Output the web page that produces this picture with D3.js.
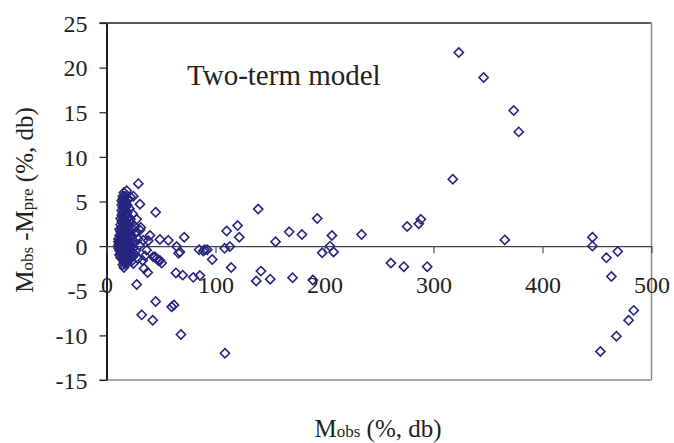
<!DOCTYPE html>
<html>
<head>
<meta charset="utf-8">
<script src="https://cdn.jsdelivr.net/npm/d3@7/dist/d3.min.js"></script>
<style>
  html, body { margin: 0; padding: 0; background: #fff; }
  svg { display: block; }
  text { font-family: "Liberation Serif", "Times New Roman", serif; fill: #231f20; }
</style>
</head>
<body>
<svg id="chart" width="674" height="443"></svg>
<script>
// ---- Data ----
const title = "Two-term model";
const xTicks = [0, 100, 200, 300, 400, 500];
const yTicks = [-15, -10, -5, 0, 5, 10, 15, 20, 25];

// Sparse points: M_obs and M_obs - M_pre
const sparseObs = [323.2, 346, 373.6, 378.2, 317.7, 365.4, 445.8, 445.8, 458.6, 469, 463.2, 483.7, 479, 467.8, 453.1,
  294.2, 139.2, 193.3, 120.3, 110.2, 121.8, 167.6, 179.3, 155.1, 206.8, 234, 275.8, 286.5, 288.4, 205, 197.9, 208.3,
  108.4, 113.2, 90, 92.4, 97, 85.7, 114.4, 141.7, 137.4, 150.2, 170.7, 189.3, 260.9, 272.8, 108.7,
  27.7, 45.1, 32.3, 42.4, 68.3, 59.8, 61.9, 63.7, 69.9, 79.6, 85, 88.8, 66.2, 67.4, 64.4, 71.3, 56.7, 49, 39.9,
  45.1, 30.7, 29.2, 27.7, 31.4, 37.8, 34.4, 49, 50.6, 46, 42.9, 36.8, 35.3, 33.2, 24.6, 16, 38.3, 33.7, 30.1,
  27.7, 30.7, 24.6, 18.5, 17, 44.5, 47.5];
const sparseDiff = [21.7, 18.9, 15.2, 12.8, 7.5, 0.7, 1.0, 0.0, -1.3, -0.6, -3.4, -7.2, -8.3, -10.1, -11.8,
  -2.3, 4.15, 3.1, 2.3, 1.7, 1.0, 1.6, 1.3, 0.5, 1.2, 1.3, 2.2, 2.5, 3.0, 0.0, -0.75, -0.65,
  -0.25, -0.05, -0.4, -0.4, -1.5, -3.3, -2.4, -2.8, -3.9, -3.7, -3.55, -3.8, -1.9, -2.3, -12.0,
  -4.3, -6.2, -7.7, -8.3, -9.9, -6.8, -6.6, -3.0, -3.25, -3.5, -0.4, -0.55, -0.8, -0.65, -0.05, 1.0, 0.65, 0.75, 1.2,
  3.8, 4.7, 7.0, 3.0, 2.1, -2.95, -2.5, -1.6, -1.9, -1.4, -1.2, -0.45, -1.1, -1.6, -1.95, -2.4, 0.6, 0.65, 0.1,
  1.6, 1.8, 5.6, 6.2, 4.8, -1.2, -1.6];

// Dense cluster at low M_obs
const clusterObs = [11, 11, 11, 11,
  12, 12, 12, 12, 12, 12,
  13, 13, 13, 13, 13, 13, 13, 13, 13,
  14, 14, 14, 14, 14, 14, 14, 14, 14, 14, 14,
  15, 15, 15, 15, 15, 15, 15, 15, 15, 15, 15, 15, 15, 15, 15, 15,
  16, 16, 16, 16, 16, 16, 16, 16, 16, 16, 16, 16, 16,
  17, 17, 17, 17, 17, 17, 17, 17, 17, 17, 17, 17, 17,
  18, 18, 18, 18, 18, 18, 18, 18, 18, 18,
  19, 19, 19, 19, 19, 19, 19, 19, 19, 19,
  20, 20, 20, 20, 20, 20, 20, 20,
  21, 21, 21, 21, 21, 21, 21,
  22, 22, 22, 22, 22, 22,
  23, 23, 23, 23, 23,
  24, 24, 24, 24, 24,
  26, 26, 26, 27, 27, 29, 29];
const clusterDiff = [0.5, 0.1, -0.2, 0.8,
  1.2, 0.6, -0.5, 0.3, -1.0, 1.9,
  0.5, 0.2, -0.3, 1.0, 1.6, 2.4, 3.1, -0.8, -1.3,
  4.0, 3.5, 2.8, 2.0, 1.2, 0.6, 0.0, -0.6, -1.0, 4.6, 5.1,
  5.6, 5.3, 4.9, 4.3, 3.7, 3.2, 2.6, 2.2, 1.8, 1.4, 0.9, 0.3, -0.2, -0.9, -1.5, -2.1,
  6.0, 5.2, 4.5, 3.9, 3.0, 2.5, 1.6, 1.1, 0.7, 0.1, -0.5, -1.2, -1.8,
  5.6, 4.8, 4.1, 3.4, 2.9, 2.1, 1.5, 0.8, 0.4, -0.3, -0.8, -1.4, -2.0,
  5.0, 4.4, 3.6, 2.7, 2.0, 1.3, 0.5, -0.1, -0.7, -1.6,
  4.6, 3.8, 3.1, 2.3, 1.7, 0.9, 0.2, -0.4, -1.1, -1.9,
  5.3, 3.3, 2.4, 1.4, 0.6, -0.2, -0.9, -1.5,
  4.2, 2.8, 1.8, 1.0, 0.3, -0.6, -1.3,
  5.5, 3.0, 1.6, 0.5, -0.4, -1.0,
  2.5, 1.2, 0.0, -0.8, -1.7,
  3.6, 1.9, 0.7, -0.3, -1.2,
  2.2, 0.4, -0.9, 1.5, -0.5, 0.8, -1.4];

// ---- Chart ----
const svg = d3.select("#chart");
const pLeft = 106.5, pRight = 651.5, pTop = 23, pBottom = 380;
const x = d3.scaleLinear().domain([0, 500]).range([pLeft, pRight]);
const y = d3.scaleLinear().domain([-15, 25]).range([pBottom, pTop]);
const markColor = "#262680";

// Plot frame (top black, right & bottom grey)
svg.append("line").attr("x1", pLeft - 7).attr("x2", pRight).attr("y1", pTop).attr("y2", pTop)
  .attr("stroke", "#231f20").attr("stroke-width", 1.3);
svg.append("line").attr("x1", pRight).attr("x2", pRight).attr("y1", pTop).attr("y2", pBottom)
  .attr("stroke", "#8c8c8c").attr("stroke-width", 1.5);
svg.append("line").attr("x1", pLeft - 7).attr("x2", pRight).attr("y1", pBottom).attr("y2", pBottom)
  .attr("stroke", "#8c8c8c").attr("stroke-width", 1.5);

// Y axis
const yAxis = d3.axisLeft(y).tickValues(yTicks).tickSize(7).tickSizeOuter(0).tickPadding(12).tickFormat(d3.format("d"));
const gy = svg.append("g").attr("transform", `translate(${pLeft},0)`).call(yAxis);
gy.select(".domain").attr("stroke", "#231f20").attr("stroke-width", 2);
gy.selectAll(".tick line").attr("stroke", "#231f20").attr("stroke-width", 1.2);
gy.selectAll(".tick text").attr("font-family", "Liberation Serif").attr("font-size", 24)
  .attr("fill", "#231f20").attr("dy", "0.34em").text(d => d < 0 ? "-" + Math.abs(d) : d);

// X axis on zero line
const xAxis = d3.axisBottom(x).tickValues(xTicks).tickSize(7).tickSizeOuter(0).tickPadding(23).tickFormat(d3.format("d"));
const gx = svg.append("g").attr("transform", `translate(0,${y(0)})`).call(xAxis);
gx.select(".domain").attr("stroke", "#444").attr("stroke-width", 1.1);
gx.selectAll(".tick line").attr("stroke", "#444").attr("stroke-width", 1.1);
gx.selectAll(".tick text").attr("font-family", "Liberation Serif").attr("font-size", 24)
  .attr("fill", "#231f20");

// Points
const pts = [];
sparseObs.forEach((v, i) => pts.push([v, sparseDiff[i]]));
clusterObs.forEach((v, i) => pts.push([v, clusterDiff[i]]));
const r = 4.6;
svg.append("g").selectAll("path").data(pts).join("path")
  .attr("d", d => {
    const cx = x(d[0]), cy = y(d[1]);
    return `M${cx},${cy - r}L${cx + r},${cy}L${cx},${cy + r}L${cx - r},${cy}Z`;
  })
  .attr("fill", "none").attr("stroke", markColor).attr("stroke-width", 1.6);

// Title
svg.append("text").attr("x", 187).attr("y", 85).attr("font-size", 29).text(title);

// X label
const xl = svg.append("text").attr("x", 378).attr("y", 437).attr("text-anchor", "middle").attr("font-size", 25);
xl.append("tspan").text("M");
xl.append("tspan").attr("font-size", 17).text("obs");
xl.append("tspan").text(" (%, db)");

// Y label
const yl = svg.append("text").attr("transform", "translate(33,200) rotate(-90)").attr("text-anchor", "middle").attr("font-size", 25);
yl.append("tspan").text("M");
yl.append("tspan").attr("font-size", 17).text("obs");
yl.append("tspan").text(" -M");
yl.append("tspan").attr("font-size", 17).text("pre");
yl.append("tspan").text(" (%, db)");
</script>
</body>
</html>
